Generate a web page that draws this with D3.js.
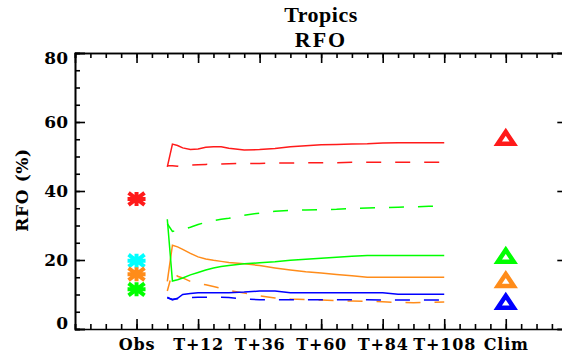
<!DOCTYPE html>
<html>
<head>
<meta charset="utf-8">
<script src="https://cdn.jsdelivr.net/npm/d3@7"></script>
<style>
  body { margin: 0; background: #fff; }
  text { font-family: "DejaVu Serif", serif; font-weight: bold; fill: #000; }
</style>
</head>
<body>
<div id="chart"></div>
<script>
var width = 562,
    height = 355;

// forecast lead times (hours) shared by every line
var leadHours = [0, 2, 4, 6, 9, 12, 15, 18, 21, 24, 30, 36, 42, 48, 54, 60, 66, 72, 78, 84, 90, 96, 102, 108];

var redSolid    = [47, 53.6, 53.2, 52.5, 52, 52.2, 52.7, 52.8, 52.8, 52.4, 51.9, 52, 52.3, 52.8, 53.1, 53.4, 53.5, 53.6, 53.7, 53.9, 54, 54, 54, 54];
var redDashed   = [47.3, 47.3, 47.2, 47.3, 47.5, 47.6, 47.7, 47.8, 47.8, 47.9, 48, 48, 48.1, 48.1, 48.2, 48.2, 48.2, 48.3, 48.3, 48.3, 48.3, 48.3, 48.3, 48.3];
var greenSolid  = [31.8, 13.9, 14.3, 14.8, 15.7, 16.4, 17.1, 17.7, 18.1, 18.4, 18.9, 19.2, 19.5, 19.9, 20.2, 20.5, 20.8, 21.1, 21.3, 21.3, 21.3, 21.3, 21.3, 21.3];
var greenDashed = [30.5, 28.3, 28.5, 28.8, 29.5, 30.3, 30.9, 31.4, 31.8, 32.1, 33, 33.6, 34.1, 34.4, 34.5, 34.6, 34.7, 34.9, 35.1, 35.2, 35.3, 35.4, 35.6, 35.6];
var orangeSolid = [13.8, 24.3, 23.8, 23.1, 21.9, 20.9, 20.3, 19.9, 19.6, 19.3, 18.9, 18.4, 17.7, 17.1, 16.6, 16.2, 15.8, 15.4, 15, 15, 15, 15, 15, 15];
var orangeDashed= [11, 16.5, 15.3, 14.8, 13.8, 13.2, 12.8, 12.3, 11.8, 11.2, 10.4, 9.6, 9, 8.7, 8.5, 8.4, 8.2, 8.1, 8, 7.9, 7.7, 7.6, 7.7, 7.8];
var blueSolid   = [9.2, 8.4, 8.9, 10, 10.3, 10.5, 10.5, 10.5, 10.5, 10.5, 10.7, 11, 11, 10.5, 10.5, 10.5, 10.5, 10.5, 10.5, 10.5, 10.1, 10.1, 10.1, 10.1];
var blueDashed  = [9, 8.6, 8.8, 9, 9.1, 9.2, 9.2, 9.2, 9.2, 9.1, 8.7, 8.5, 8.5, 8.5, 8.5, 8.5, 8.5, 8.5, 8.5, 8.4, 8.4, 8.4, 8.4, 8.4];

// observed and climatology values
var obsColors  = ["#ff1a1a", "#00ffff", "#ff8c1a", "#00ff00"];
var obsValues  = [37.7, 19.8, 15.9, 11.5];
var climColors = ["#ff1a1a", "#00ff00", "#ff8c1a", "#0000ff"];
var climValues = [55.4, 21.2, 14.2, 7.9];

var xTickHours  = [-12, 12, 36, 60, 84, 108, 132];
var xTickLabels = ["Obs", "T+12", "T+36", "T+60", "T+84", "T+108", "Clim"];
var yTicks = [0, 20, 40, 60, 80];

var series = [
  {values: redSolid,     color: "#ff1a1a", dashed: false},
  {values: redDashed,    color: "#ff1a1a", dashed: true},
  {values: greenDashed,  color: "#00ff00", dashed: true},
  {values: orangeDashed, color: "#ff8c1a", dashed: true},
  {values: blueDashed,   color: "#0000ff", dashed: true},
  {values: orangeSolid,  color: "#ff8c1a", dashed: false},
  {values: greenSolid,   color: "#00ff00", dashed: false},
  {values: blueSolid,    color: "#0000ff", dashed: false}
];

var x = d3.scaleLinear().domain([-36, 156]).range([75, 567.3]);
var y = d3.scaleLinear().domain([0, 80]).range([329, 53]);

var svg = d3.select("#chart").append("svg")
    .attr("width", width)
    .attr("height", height);

// titles
svg.append("text")
   .attr("x", 321).attr("y", 21.5)
   .attr("text-anchor", "middle")
   .style("font-family", "'Liberation Serif', serif")
   .style("font-size", "22px")
   .style("letter-spacing", "0.5px")
   .text("Tropics");
svg.append("text")
   .attr("x", 321).attr("y", 46.5)
   .attr("text-anchor", "middle")
   .style("font-family", "'Liberation Serif', serif")
   .style("font-size", "22px")
   .style("letter-spacing", "2px")
   .text("RFO");

// axes (ticks point inwards on all four sides)
var minorX = d3.range(-36, 157, 6);
var minorY = d3.range(0, 81, 5);

function styleAxis(g) {
  g.selectAll("path, line").attr("stroke", "#000").attr("stroke-width", 1.6);
}

svg.append("g").attr("transform", "translate(0," + y(0) + ")")
   .call(d3.axisBottom(x).tickValues(minorX).tickSize(-5).tickFormat(""))
   .call(styleAxis);
var xAxis = svg.append("g").attr("transform", "translate(0," + y(0) + ")")
   .call(d3.axisBottom(x).tickValues(xTickHours).tickSize(-10)
         .tickFormat(function(d, i) { return xTickLabels[i]; }))
   .call(styleAxis);
xAxis.select(".domain").remove();
xAxis.selectAll("text")
   .attr("y", 21).attr("dy", 0)
   .style("font-size", "16px")
   .style("letter-spacing", "0.8px");

svg.append("g").attr("transform", "translate(0," + y(80) + ")")
   .call(d3.axisTop(x).tickValues(minorX).tickSize(-5).tickFormat(""))
   .call(styleAxis);
svg.append("g").attr("transform", "translate(0," + y(80) + ")")
   .call(d3.axisTop(x).tickValues(xTickHours).tickSize(-10).tickFormat(""))
   .call(styleAxis);

svg.append("g").attr("transform", "translate(" + x(-36) + ",0)")
   .call(d3.axisLeft(y).tickValues(minorY).tickSize(-5).tickFormat(""))
   .call(styleAxis);
var yAxis = svg.append("g").attr("transform", "translate(" + x(-36) + ",0)")
   .call(d3.axisLeft(y).tickValues(yTicks).tickSize(-10).tickPadding(7))
   .call(styleAxis);
yAxis.selectAll("text")
   .style("font-size", "17px")
   .attr("dy", function(d) { return d === 0 ? "-0.05em" : d === 80 ? "0.6em" : "0.35em"; });

svg.append("g").attr("transform", "translate(" + x(156) + ",0)")
   .call(d3.axisRight(y).tickValues(minorY).tickSize(-5).tickFormat(""))
   .call(styleAxis);
svg.append("g").attr("transform", "translate(" + x(156) + ",0)")
   .call(d3.axisRight(y).tickValues(yTicks).tickSize(-10).tickFormat(""))
   .call(styleAxis);

// y axis title
svg.append("text")
   .attr("transform", "translate(28," + (y(40) - 1) + ") rotate(-90)")
   .attr("text-anchor", "middle")
   .style("font-size", "17px")
   .style("letter-spacing", "0.6px")
   .text("RFO (%)");

// forecast lines
var line = d3.line()
    .x(function(d, i) { return x(leadHours[i]); })
    .y(function(d) { return y(d); });

svg.append("g").selectAll("path")
   .data(series)
   .join("path")
   .attr("d", function(s) { return line(s.values); })
   .attr("fill", "none")
   .attr("stroke", function(s) { return s.color; })
   .attr("stroke-width", 1.5)
   .attr("stroke-dasharray", function(s) { return s.dashed ? "15,14" : null; })
   .attr("stroke-dashoffset", function(s) { return s.dashed ? 4 : null; });

// observation asterisks
var star = "M-9,0L9,0M0,-7L0,7M-8,-6L8,6M-8,6L8,-6";
svg.append("g").selectAll("path")
   .data(obsValues)
   .join("path")
   .attr("transform", function(d) { return "translate(" + x(-12) + "," + y(d) + ")"; })
   .attr("d", star)
   .attr("stroke", function(d, i) { return obsColors[i]; })
   .attr("stroke-width", 4)
   .attr("fill", "none");

// climatology triangles
var tri = "M0,-6L8,6L-8,6Z";
svg.append("g").selectAll("path")
   .data(climValues)
   .join("path")
   .attr("transform", function(d) { return "translate(" + x(132) + "," + y(d) + ")"; })
   .attr("d", tri)
   .attr("stroke", function(d, i) { return climColors[i]; })
   .attr("stroke-width", 4.5)
   .attr("stroke-linejoin", "miter")
   .attr("fill", "none");
</script>
</body>
</html>
